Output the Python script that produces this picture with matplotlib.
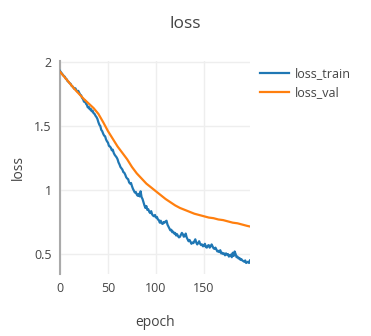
import matplotlib
matplotlib.use('Agg')
import matplotlib.pyplot as plt

plt.rcParams['font.family'] = ['Open Sans', 'DejaVu Sans']

loss_train = [
    1.93, 1.92, 1.91, 1.90, 1.89, 1.885, 1.87, 1.865, 1.85, 1.845,
    1.835, 1.83, 1.815, 1.81, 1.80, 1.79, 1.795, 1.78, 1.77, 1.775,
    1.76, 1.745, 1.74, 1.72, 1.71, 1.69, 1.70, 1.675, 1.665, 1.645,
    1.65, 1.63, 1.635, 1.615, 1.62, 1.60, 1.595, 1.58, 1.57, 1.555,
    1.53, 1.51, 1.50, 1.47, 1.46, 1.44, 1.425, 1.42, 1.395, 1.38,
    1.37, 1.345, 1.34, 1.33, 1.31, 1.315, 1.29, 1.275, 1.265, 1.255,
    1.24, 1.215, 1.20, 1.18, 1.17, 1.16, 1.14, 1.135, 1.12, 1.10,
    1.09, 1.085, 1.06, 1.05, 1.055, 1.03, 1.01, 0.995, 0.98, 0.985,
    0.965, 0.955, 0.97, 0.95, 0.99, 0.945, 0.93, 0.905, 0.88, 0.86,
    0.875, 0.845, 0.85, 0.83, 0.82, 0.835, 0.81, 0.80, 0.795, 0.805,
    0.785, 0.79, 0.77, 0.765, 0.745, 0.76, 0.74, 0.735, 0.75, 0.745,
    0.755, 0.76, 0.73, 0.715, 0.70, 0.685, 0.69, 0.67, 0.675, 0.66,
    0.665, 0.645, 0.655, 0.64, 0.63, 0.635, 0.65, 0.665, 0.655, 0.635,
    0.64, 0.66, 0.63, 0.615, 0.60, 0.61, 0.595, 0.58, 0.59, 0.585,
    0.60, 0.615, 0.59, 0.575, 0.585, 0.60, 0.58, 0.57, 0.575, 0.56,
    0.565, 0.58, 0.555, 0.55, 0.565, 0.57, 0.55, 0.56, 0.575, 0.56,
    0.545, 0.54, 0.55, 0.535, 0.52, 0.525, 0.515, 0.53, 0.505, 0.51,
    0.50, 0.505, 0.49, 0.505, 0.495, 0.50, 0.48, 0.49, 0.495, 0.475,
    0.51, 0.485, 0.52, 0.50, 0.475, 0.48, 0.465, 0.47, 0.455, 0.46,
    0.45, 0.445, 0.44, 0.45, 0.43, 0.435, 0.44, 0.43, 0.45,
]
epochs_train = list(range(len(loss_train)))

epochs_val = [0, 5, 10, 15, 20, 25, 30, 35, 40, 45, 50, 55, 60, 65, 70, 75, 80, 85, 90, 95,
              100, 105, 110, 115, 120, 125, 130, 135, 140, 145, 150, 155, 160, 165, 170, 175,
              180, 185, 190, 195, 198]
loss_val = [1.924, 1.88, 1.835, 1.79, 1.75, 1.71, 1.675, 1.64, 1.595, 1.53, 1.46, 1.40, 1.34,
            1.29, 1.24, 1.18, 1.13, 1.09, 1.05, 1.02, 0.99, 0.96, 0.93, 0.905, 0.88, 0.86,
            0.845, 0.83, 0.815, 0.805, 0.795, 0.785, 0.78, 0.77, 0.765, 0.755, 0.745, 0.74,
            0.73, 0.72, 0.715]

x_ticks = [0, 50, 100, 150]
y_ticks = [0.5, 1, 1.5, 2]
y_tick_labels = ['0.5', '1', '1.5', '2']

W, H = 371, 336
fig = plt.figure(figsize=(W / 100, H / 100), dpi=100)
ax = fig.add_axes([60 / W, 1 - 274 / H, 190 / W, 213 / H])

ax.plot(epochs_train, loss_train, color='#1f77b4', lw=1.6, label='loss_train', zorder=3)
ax.plot(epochs_val, loss_val, color='#ff7f0e', lw=1.6, label='loss_val', zorder=3)

ax.set_xlim(0, 198)
ax.set_ylim(0.344, 2.008)
ax.set_xticks(x_ticks)
ax.set_yticks(y_ticks)
ax.set_yticklabels(y_tick_labels)
ax.grid(True, color='#eeeeee', lw=1)
ax.set_axisbelow(True)
for s in ['top', 'right', 'bottom']:
    ax.spines[s].set_visible(False)
ax.spines['left'].set_color('#aaaaaa')
ax.spines['left'].set_linewidth(1.5)
ax.tick_params(length=0, labelsize=9, colors='#444444', pad=6)

# axis titles placed by figure pixels, like plotly does
fig.text(155 / W, 1 - 322 / H, 'epoch', ha='center', va='center', fontsize=10, color='#444444')
fig.text(18 / W, 1 - 168 / H, 'loss', ha='center', va='center', fontsize=10, color='#444444',
         rotation=90)

fig.text(185.5 / W, 1 - 24 / H, 'loss', ha='center', va='center', fontsize=12.5, color='#444444')

fig.legend(loc='upper left', bbox_to_anchor=(255 / W, 1 - 62 / H), frameon=False,
           fontsize=9, handlelength=2.3, handletextpad=0.5, labelcolor='#444444',
           borderaxespad=0, labelspacing=0.5)

fig.savefig('out.png', dpi=100)
